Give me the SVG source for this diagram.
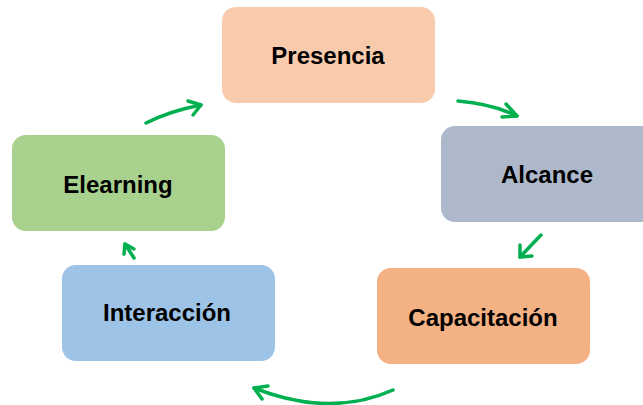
<svg xmlns="http://www.w3.org/2000/svg" width="643" height="405" viewBox="0 0 643 405">
<style>
.lbl{font-family:"Liberation Sans",Arial,sans-serif;font-weight:bold;font-size:24px;fill:#000;text-anchor:middle;dominant-baseline:central}
.arr{fill:none;stroke:#00B050;stroke-width:3.5;stroke-linecap:round;stroke-linejoin:round}
</style>
<rect width="643" height="405" fill="#fff"/>
<g id="presencia"><rect x="222" y="7" width="213" height="96" rx="14" fill="#F8CBAD"/><text class="lbl" x="328" y="55">Presencia</text></g>
<g id="alcance"><rect x="441" y="126" width="216" height="96" rx="14" fill="#ADB9CA"/><text class="lbl" x="547" y="174">Alcance</text></g>
<g id="capacitacion"><rect x="377" y="268" width="213" height="96" rx="14" fill="#F4B183"/><text class="lbl" x="483" y="317">Capacitación</text></g>
<g id="interaccion"><rect x="62" y="265" width="213" height="96" rx="14" fill="#9DC3E6"/><text class="lbl" x="167" y="312">Interacción</text></g>
<g id="elearning"><rect x="12" y="135" width="213" height="96" rx="14" fill="#A9D18E"/><text class="lbl" x="118" y="184">Elearning</text></g>
<g id="connectors">
<path class="arr" d="M146,123 Q170,111 201,105"/><path class="arr" d="M188,101 L201,105 L193,115"/>
<path class="arr" d="M458,101 Q493,104 517,116"/><path class="arr" d="M506,104 L517,116 L502,117"/>
<path class="arr" d="M541,235 L520,257"/><path class="arr" d="M520,245 L520,257 L532,256"/>
<path class="arr" d="M393,390 Q330,418 254,388"/><path class="arr" d="M268,386 L254,388 L262,399"/>
<path class="arr" d="M134,258 L125,244"/><path class="arr" d="M124,254 L125,244 L134,249"/>
</g>
</svg>
